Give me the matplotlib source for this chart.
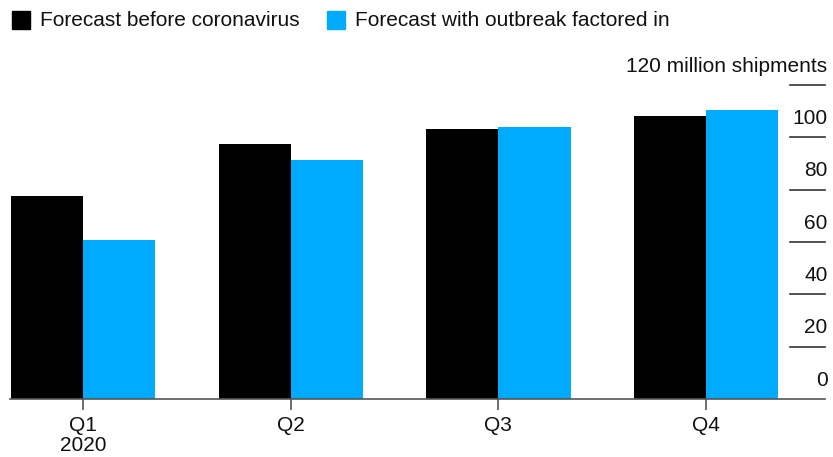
import matplotlib.pyplot as plt
from matplotlib.patches import Rectangle
import numpy as np

plt.rcParams['font.family'] = ['Liberation Sans', 'DejaVu Sans']

# データ
quarters = ["Q1\n2020", "Q2", "Q3", "Q4"]
series_names = ["Forecast before coronavirus", "Forecast with outbreak factored in"]
before_virus = [77.6, 97.4, 103.2, 108.3]
with_outbreak = [60.8, 91.3, 103.8, 110.4]
y_ticks = [0, 20, 40, 60, 80, 100, 120]
colors = ["#000000", "#00aaff"]

FS = 15
TXT = "#111111"

fig = plt.figure(figsize=(8.33, 4.57), dpi=100)
W, H = 833, 457
ax = fig.add_axes([10 / W, (H - 399) / H, 815 / W, (399 - 85) / H])

x = np.arange(len(quarters))
width = 0.347
ax.bar(x - width / 2, before_virus, width, color=colors[0], linewidth=0)
ax.bar(x + width / 2, with_outbreak, width, color=colors[1], linewidth=0)

ax.set_xlim(-0.351, 3.572)
ax.set_ylim(0, 120)

for s in ["top", "right", "left"]:
    ax.spines[s].set_visible(False)
ax.spines["bottom"].set_color("#555555")
ax.spines["bottom"].set_linewidth(1.2)

ax.set_yticks([])
ax.set_xticks(x)
ax.set_xticklabels(quarters, fontsize=FS, color=TXT, linespacing=1.1)
ax.tick_params(axis="x", length=8, width=1.2, color="#555555", pad=4)

# 右側の目盛り線とラベル
tr = ax.get_yaxis_transform()
for v in y_ticks[1:]:
    ax.plot([0.957, 1.0], [v, v], transform=tr, color="#333333", lw=1.2, clip_on=False)
for v in y_ticks:
    label = f"{v} million shipments" if v == 120 else str(v)
    ax.text(1.003, v + 3.6, label, transform=tr, ha="right", va="bottom",
            fontsize=FS, color=TXT, clip_on=False)

# 凡例
legend_pos = [(12, 40), (327, 355)]
for (sx, tx), name, c in zip(legend_pos, series_names, colors):
    fig.patches.append(Rectangle((sx / W, 1 - 29 / H), 18 / W, 18 / H,
                                 transform=fig.transFigure, color=c))
    fig.text(tx / W, 1 - 20 / H, name, ha="left", va="center",
             fontsize=FS, color=TXT)

fig.savefig("out.png", dpi=100)
